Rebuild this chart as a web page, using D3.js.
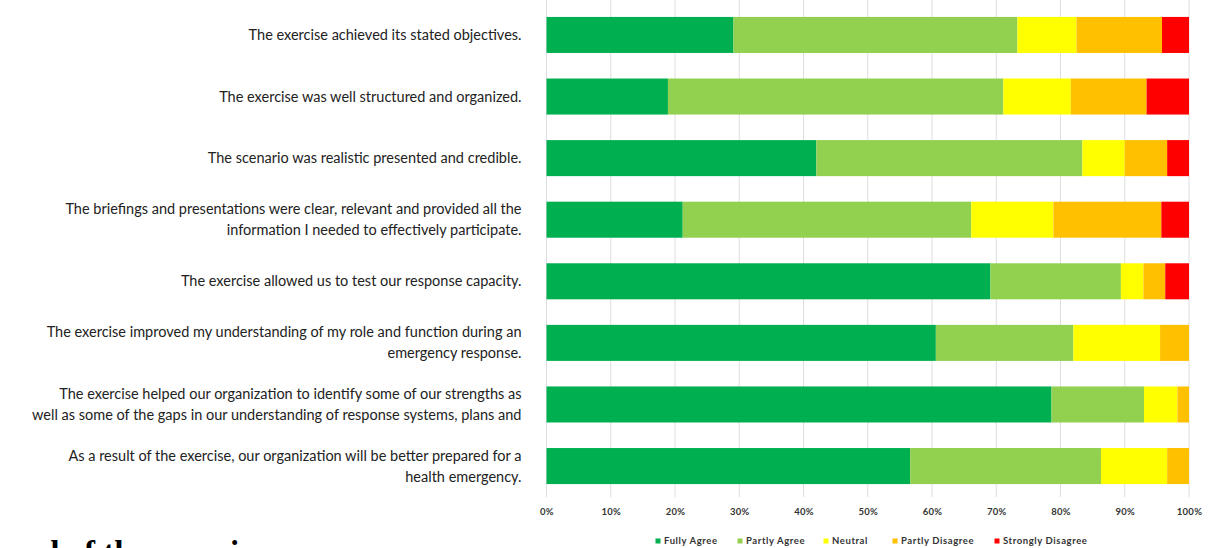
<!DOCTYPE html>
<html>
<head>
<meta charset="utf-8">
<script src="https://cdn.jsdelivr.net/npm/d3@7"></script>
<style>
  html, body { margin: 0; padding: 0; background: #fff; overflow: hidden; }
  svg { display: block; }
</style>
</head>
<body>
<svg id="chart" width="1221" height="548"></svg>
<script>
// Survey statements (line breaks mark wrapped labels)
const categories = [
  "The exercise achieved its stated objectives.",
  "The exercise was well structured and organized.",
  "The scenario was realistic presented and credible.",
  "The briefings and presentations were clear, relevant and provided all the\ninformation I needed to effectively participate.",
  "The exercise allowed us to test our response capacity.",
  "The exercise improved my understanding of my role and function during an\nemergency response.",
  "The exercise helped our organization to identify some of our strengths as\nwell as some of the gaps in our understanding of response systems, plans and",
  "As a result of the exercise, our organization will be better prepared for a\nhealth emergency."
];

// Share of responses per statement (%)
const fullyAgree       = [29.1, 18.9, 42.0, 21.2, 69.1, 60.6, 78.6, 56.6];
const partlyAgree      = [44.2, 52.2, 41.4, 44.9, 20.3, 21.4, 14.4, 29.7];
const neutral          = [ 9.2, 10.5,  6.6, 12.8,  3.5, 13.5,  5.2, 10.3];
const partlyDisagree   = [13.3, 11.8,  6.6, 16.8,  3.4,  4.5,  1.8,  3.4];
const stronglyDisagree = [ 4.2,  6.6,  3.4,  4.3,  3.7,  0.0,  0.0,  0.0];

const seriesNames = ["Fully Agree", "Partly Agree", "Neutral", "Partly Disagree", "Strongly Disagree"];
const seriesColors = ["#00B050", "#92D050", "#FFFF00", "#FFC000", "#FF0000"];
const tickValues = [0, 10, 20, 30, 40, 50, 60, 70, 80, 90, 100];

const seriesValues = [fullyAgree, partlyAgree, neutral, partlyDisagree, stronglyDisagree];
const rows = categories.map((c, i) => {
  const r = { category: c };
  seriesNames.forEach((s, k) => { r[s] = seriesValues[k][i]; });
  return r;
});

const svg = d3.select("#chart");
const plotLeft = 546.5, plotRight = 1189, plotTop = 4, plotBottom = 497;

const x = d3.scaleLinear().domain([0, 100]).range([plotLeft, plotRight]);
const y = d3.scaleBand().domain(categories).range([plotTop, plotBottom]).paddingInner(0.415).paddingOuter(0.21);

// vertical gridlines
svg.append("g")
  .selectAll("line")
  .data(tickValues)
  .join("line")
  .attr("x1", d => x(d)).attr("x2", d => x(d))
  .attr("y1", 0).attr("y2", plotBottom)
  .attr("stroke", "#dedede")
  .attr("stroke-width", 1);

// stacked bars
const stack = d3.stack().keys(seriesNames)(rows);
svg.append("g")
  .selectAll("g")
  .data(stack)
  .join("g")
  .attr("fill", (d, i) => seriesColors[i])
  .selectAll("rect")
  .data(d => d)
  .join("rect")
  .attr("x", d => x(d[0]))
  .attr("width", d => Math.max(0, x(d[1]) - x(d[0])))
  .attr("y", d => y(d.data.category))
  .attr("height", y.bandwidth());

// x-axis tick labels
const xAxis = d3.axisBottom(x)
  .tickValues(tickValues)
  .tickFormat(d => d + "%")
  .tickSize(0)
  .tickPadding(0);
const gx = svg.append("g").attr("transform", `translate(0,${plotBottom + 11})`).call(xAxis);
gx.select(".domain").remove();
gx.selectAll("text")
  .attr("font-family", "Lato, sans-serif")
  .attr("font-size", 9.5)
  .attr("font-weight", "bold")
  .attr("letter-spacing", 0.3)
  .attr("fill", "#333");

// category labels
const yAxis = d3.axisLeft(y).tickSize(0).tickFormat("");
const gy = svg.append("g").attr("transform", `translate(${plotLeft},0)`).call(yAxis);
gy.select(".domain").remove();
const lineGap = 21;
gy.selectAll(".tick").each(function(d) {
  const lines = d.split("\n");
  const t = d3.select(this).append("text")
    .attr("x", -25)
    .attr("text-anchor", "end")
    .attr("font-family", "Lato, sans-serif")
    .attr("font-size", 14.5)
    .attr("fill", "#222");
  lines.forEach((ln, i) => {
    t.append("tspan")
      .attr("x", -25)
      .attr("y", (i - (lines.length - 1) / 2) * lineGap)
      .attr("dy", "0.35em")
      .text(ln);
  });
});

// legend
const legendX = [658, 740, 826, 895, 997];
const legend = svg.append("g").attr("transform", "translate(0,541)");
seriesNames.forEach((s, i) => {
  legend.append("rect")
    .attr("x", legendX[i] - 2.5).attr("y", -2.5)
    .attr("width", 5).attr("height", 5)
    .attr("fill", seriesColors[i]);
  legend.append("text")
    .attr("x", legendX[i] + 6).attr("y", 0).attr("dy", "0.35em")
    .attr("font-family", "Lato, sans-serif")
    .attr("font-size", 9.5)
    .attr("font-weight", "bold")
    .attr("letter-spacing", 0.6)
    .attr("fill", "#333")
    .text(s);
});

// page heading continuing below the figure
svg.append("text")
  .attr("x", 8).attr("y", 564)
  .attr("font-family", "Liberation Serif, serif")
  .attr("font-weight", "bold")
  .attr("font-size", 33)
  .attr("fill", "#000")
  .text("end of the exercise");
</script>
</body>
</html>
